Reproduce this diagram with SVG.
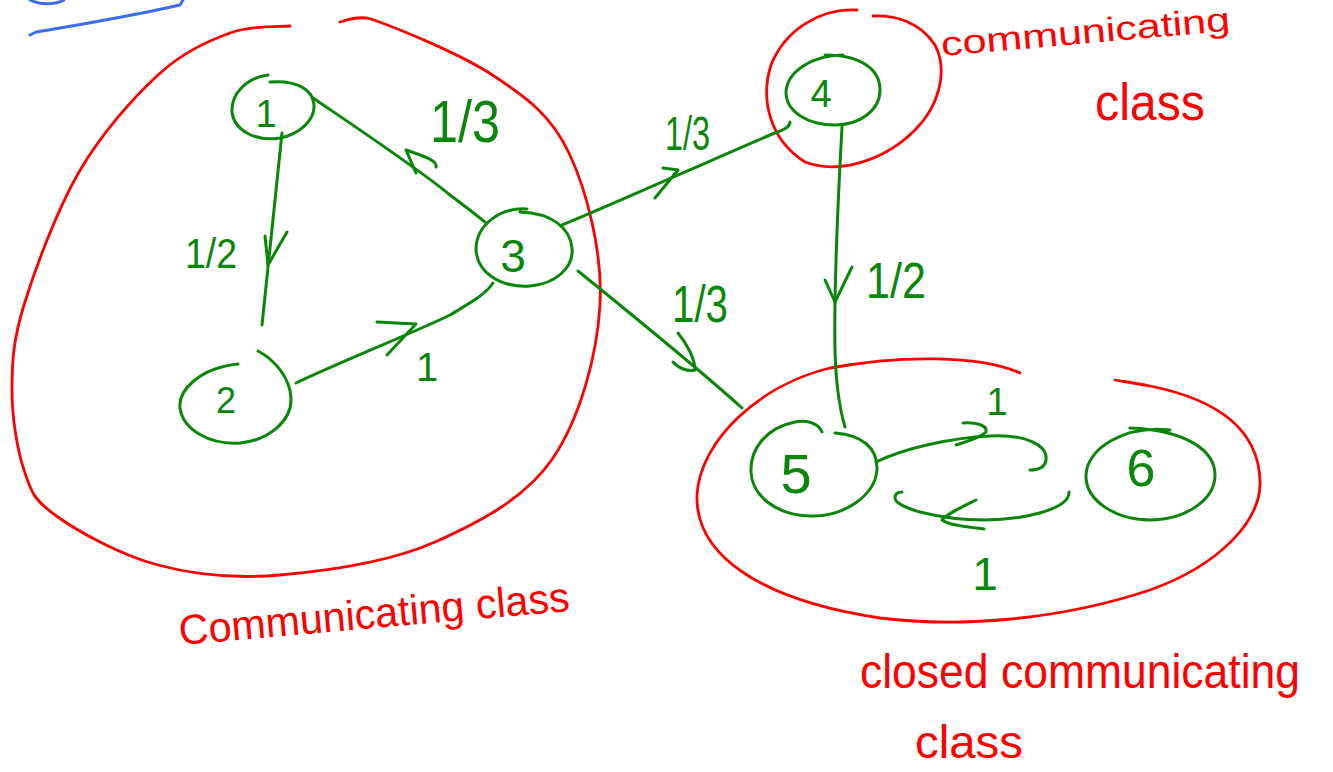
<svg xmlns="http://www.w3.org/2000/svg" width="1333" height="772" viewBox="0 0 1333 772">
  <style>
    .ink-g { fill: none; stroke: #0a870a; stroke-width: 3; stroke-linecap: round; stroke-linejoin: round; }
    .ink-r { fill: none; stroke: #ff0000; stroke-width: 2.8; stroke-linecap: round; stroke-linejoin: round; }
    .ink-b { fill: none; stroke: #3a6df0; stroke-width: 3; stroke-linecap: round; stroke-linejoin: round; }
    .lbl-g { fill: #0a870a; font-family: "Liberation Sans", "DejaVu Sans", sans-serif; }
    .lbl-r { fill: #ff0000; font-family: "Liberation Sans", "DejaVu Sans", sans-serif; }
  </style>
  <rect width="1333" height="772" fill="#ffffff"/>

  <!-- blue pen marks, top-left -->
  <g id="pen-marks">
    <path class="ink-b" d="M30,0 C40,5 55,5 64,0"/>
    <path class="ink-b" d="M30,35 L36,32 C80,25 150,12 180,5 L183,0"/>
  </g>

  <!-- class outlines -->
  <g id="class-left">
    <path class="ink-r" d="M290,26 C280,27 252,25 230,33 C208,41 183,52 158,75 C133,98 101,134 79,172 C57,210 35,269 24,305 C13,341 12,362 12,390 C12,417 17,449 24,470 C31,491 33,499 55,515 C77,531 120,555 158,565 C195,575 234,579 280,575 C326,571 390,562 435,542 C480,522 526,498 553,458 C580,418 597,356 600,305 C603,254 587,191 569,153 C551,115 527,98 494,76 C461,54 397,28 371,19 C360,16 350,19 340,22"/>
    <text class="lbl-r" x="180" y="645" font-size="42" textLength="392" lengthAdjust="spacingAndGlyphs" transform="rotate(-5 180 645)">Communicating class</text>
  </g>
  <g id="class-4">
    <path class="ink-r" d="M857,10 C820,8 785,30 771,65 C760,100 770,140 805,162 C840,175 885,160 915,130 C940,105 948,70 935,45 C920,22 895,15 873,16"/>
    <text class="lbl-r" x="942" y="56" font-size="34" textLength="290" lengthAdjust="spacingAndGlyphs" transform="rotate(-5 942 56)">communicating</text>
    <text class="lbl-r" x="1095" y="120" font-size="52" textLength="110" lengthAdjust="spacingAndGlyphs">class</text>
  </g>
  <g id="class-closed">
    <path class="ink-r" d="M1020,373 C980,355 900,355 830,368 C760,385 700,440 697,495 C695,555 760,600 880,618 C960,628 1060,620 1150,590 C1220,565 1262,520 1260,480 C1258,430 1220,400 1150,386 C1135,383 1120,381 1115,380"/>
    <text class="lbl-r" x="860" y="688" font-size="48" textLength="440" lengthAdjust="spacingAndGlyphs">closed communicating</text>
    <text class="lbl-r" x="915" y="758" font-size="46" textLength="108" lengthAdjust="spacingAndGlyphs">class</text>
  </g>

  <!-- states -->
  <g id="node-1">
    <path class="ink-g" d="M268,75 C245,78 231,95 232,112 C234,130 255,142 280,138 C300,134 315,120 314,105 C313,90 298,80 270,82"/>
    <text class="lbl-g" x="266" y="127" font-size="38" text-anchor="middle">1</text>
  </g>
  <g id="node-2">
    <path class="ink-g" d="M238,364 C200,368 178,390 180,408 C183,430 210,445 240,443 C270,440 292,420 291,398 C290,378 275,360 258,351"/>
    <text class="lbl-g" x="226" y="413" font-size="36" text-anchor="middle">2</text>
  </g>
  <g id="node-3">
    <path class="ink-g" d="M527,209 C500,207 477,225 476,248 C476,272 500,288 530,286 C555,284 574,268 572,248 C570,228 552,213 520,212"/>
    <text class="lbl-g" x="513" y="272" font-size="46" text-anchor="middle">3</text>
  </g>
  <g id="node-4">
    <path class="ink-g" d="M843,55 C812,55 787,72 786,92 C786,112 808,125 835,125 C860,125 880,110 880,90 C880,70 862,55 825,55"/>
    <text class="lbl-g" x="821" y="107" font-size="38" text-anchor="middle">4</text>
  </g>
  <g id="node-5">
    <path class="ink-g" d="M822,432 C818,422 805,420 795,422 C765,428 750,450 751,472 C752,495 775,515 810,516 C845,517 875,495 877,470 C878,448 862,435 835,433"/>
    <text class="lbl-g" x="796" y="493" font-size="56" text-anchor="middle">5</text>
  </g>
  <g id="node-6">
    <path class="ink-g" d="M1170,430 C1125,425 1087,448 1086,475 C1085,500 1115,520 1150,520 C1185,520 1215,500 1215,475 C1215,450 1185,430 1130,428"/>
    <text class="lbl-g" x="1141" y="486" font-size="52" text-anchor="middle">6</text>
  </g>

  <!-- transitions -->
  <g id="connectors">
    <!-- 1 to 2 -->
    <path class="ink-g" d="M282,133 L262,325"/>
    <path class="ink-g" d="M265,236 L268,265 L287,232"/>
    <text class="lbl-g" x="185" y="268" font-size="42" textLength="52" lengthAdjust="spacingAndGlyphs">1/2</text>
    <!-- 3 to 1 -->
    <path class="ink-g" d="M313,98 C360,130 420,170 450,195 C470,210 480,218 485,222"/>
    <path class="ink-g" d="M416,173 L406,150 C420,155 438,160 436,167"/>
    <text class="lbl-g" x="430" y="142" font-size="60" textLength="70" lengthAdjust="spacingAndGlyphs">1/3</text>
    <!-- 2 to 3 -->
    <path class="ink-g" d="M296,383 C340,362 420,330 450,315 C470,303 485,295 493,283"/>
    <path class="ink-g" d="M377,322 L416,324 L387,355"/>
    <text class="lbl-g" x="427" y="381" font-size="40" text-anchor="middle">1</text>
    <!-- 3 to 4 -->
    <path class="ink-g" d="M562,225 C600,210 700,165 770,135 C782,130 790,128 790,122"/>
    <path class="ink-g" d="M663,168 L678,170 L655,198"/>
    <text class="lbl-g" x="665" y="150" font-size="48" textLength="45" lengthAdjust="spacingAndGlyphs">1/3</text>
    <!-- 3 to 5 -->
    <path class="ink-g" d="M578,271 C620,305 700,370 742,408"/>
    <path class="ink-g" d="M678,333 C688,345 695,360 695,370 C688,372 678,368 673,362"/>
    <text class="lbl-g" x="672" y="322" font-size="52" textLength="56" lengthAdjust="spacingAndGlyphs">1/3</text>
    <!-- 4 to 5 -->
    <path class="ink-g" d="M842,127 C838,200 834,300 835,350 C836,390 840,410 845,427"/>
    <path class="ink-g" d="M825,280 L835,302 L852,267"/>
    <text class="lbl-g" x="866" y="298" font-size="50" textLength="60" lengthAdjust="spacingAndGlyphs">1/2</text>
    <!-- 5 to 6 -->
    <path class="ink-g" d="M876,462 C905,448 950,438 990,436 C1025,434 1048,445 1046,460 C1045,467 1040,470 1030,470"/>
    <path class="ink-g" d="M963,423 C975,422 988,425 986,432 C980,438 965,442 956,445"/>
    <text class="lbl-g" x="997" y="415" font-size="38" text-anchor="middle">1</text>
    <!-- 6 to 5 -->
    <path class="ink-g" d="M1069,492 C1070,510 1020,520 985,520 C940,520 895,508 895,498 C895,493 898,492 902,492"/>
    <path class="ink-g" d="M976,500 C960,508 945,515 942,520 C950,526 970,527 984,529"/>
    <text class="lbl-g" x="985" y="590" font-size="46" text-anchor="middle">1</text>
  </g>
</svg>
